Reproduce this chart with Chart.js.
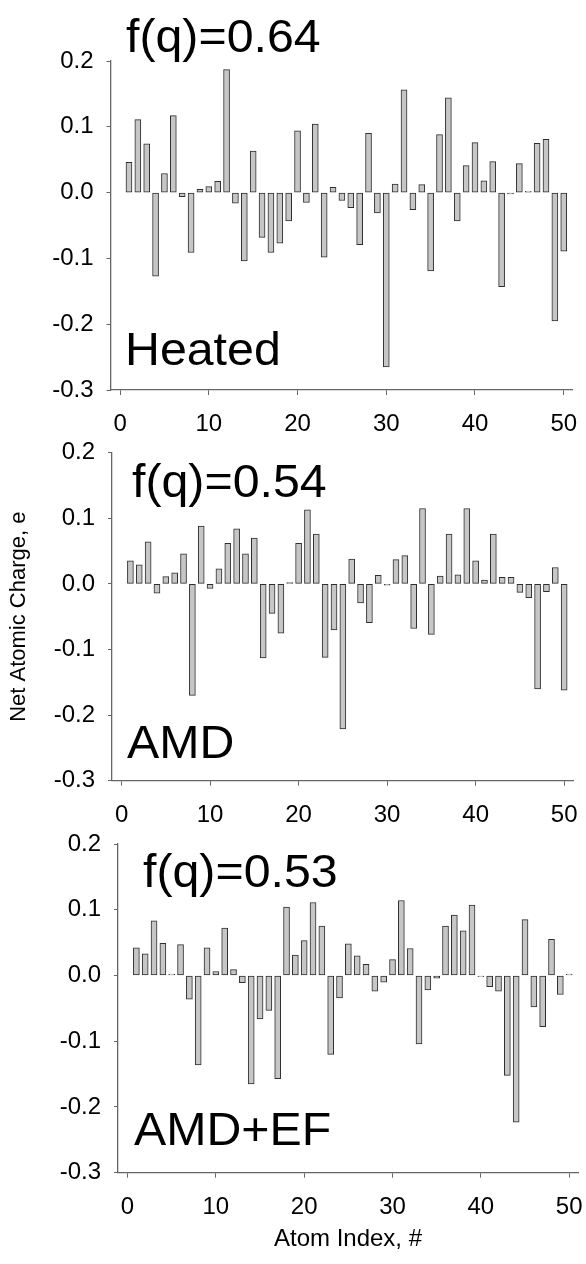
<!DOCTYPE html>
<html><head><meta charset="utf-8">
<script src="https://cdn.jsdelivr.net/npm/chart.js@4.4.0/dist/chart.umd.min.js"></script>
<style>
html,body{margin:0;padding:0;background:#fff;width:586px;height:1264px;overflow:hidden;}
.panel{position:absolute;left:0;width:586px;}
.lbl{position:absolute;font-family:"Liberation Sans",Arial,sans-serif;font-size:46px;color:#000;white-space:nowrap;line-height:1;transform-origin:left top;transform:scaleX(1.05);}
</style></head><body>
<div class="panel" style="top:0;height:440px"><canvas id="c1"></canvas></div>
<div class="panel" style="top:440px;height:390px"><canvas id="c2"></canvas></div>
<div class="panel" style="top:830px;height:434px"><canvas id="c3"></canvas></div>
<div class="lbl" style="left:126px;top:13px">f(q)=0.64</div>
<div class="lbl" style="left:125px;top:326px">Heated</div>
<div class="lbl" style="left:132px;top:458px">f(q)=0.54</div>
<div class="lbl" style="left:127px;top:719px">AMD</div>
<div class="lbl" style="left:143px;top:848px">f(q)=0.53</div>
<div class="lbl" style="left:134px;top:1106px">AMD+EF</div>
<script>
const atomIndex = [1,2,3,4,5,6,7,8,9,10,11,12,13,14,15,16,17,18,19,20,21,22,23,24,25,26,27,28,29,30,31,32,33,34,35,36,37,38,39,40,41,42,43,44,45,46,47,48,49,50];
const heated = [0.046,0.111,0.074,-0.127,0.029,0.117,-0.006,-0.091,0.005,0.009,
  0.017,0.187,-0.016,-0.104,0.063,-0.068,-0.091,-0.077,-0.043,0.094,
  -0.015,0.104,-0.098,0.008,-0.012,-0.023,-0.079,0.090,-0.031,-0.265,
  0.013,0.156,-0.026,0.012,-0.119,0.088,0.144,-0.043,0.041,0.076,
  0.018,0.047,-0.143,-0.002,0.044,0.002,0.075,0.081,-0.195,-0.089];
const amd = [0.035,0.029,0.064,-0.014,0.011,0.017,0.046,-0.170,0.088,-0.007,
  0.023,0.062,0.084,0.046,0.070,-0.113,-0.045,-0.075,0.002,0.062,
  0.113,0.076,-0.112,-0.070,-0.221,0.038,-0.029,-0.059,0.013,-0.002,
  0.037,0.043,-0.068,0.115,-0.077,0.012,0.076,0.014,0.115,0.035,
  0.006,0.076,0.010,0.010,-0.013,-0.021,-0.160,-0.012,0.025,-0.162];
const amdEf = [0.042,0.033,0.083,0.049,0.002,0.047,-0.036,-0.136,0.042,0.006,
  0.072,0.009,-0.011,-0.165,-0.066,-0.053,-0.157,0.104,0.031,0.053,
  0.111,0.075,-0.120,-0.034,0.048,0.030,0.017,-0.024,-0.010,0.024,
  0.114,0.041,-0.104,-0.022,-0.004,0.075,0.092,0.068,0.107,-0.002,
  -0.017,-0.024,-0.152,-0.223,0.085,-0.048,-0.078,0.055,-0.029,0.002];
const xTicks = [0,10,20,30,40,50];
const xTickLabels = ['0','10','20','30','40','50'];
const yTicks = [-0.3,-0.2,-0.1,0.0,0.1,0.2];
const yTickLabels = ['-0.3','-0.2','-0.1','0.0','0.1','0.2'];
const xAxisTitle = 'Atom Index, #';
const yAxisTitle = 'Net Atomic Charge, e';

const FAM = '"Liberation Sans", Arial, sans-serif';
const AXIS = '#666';

function makeChart(id, values, o) {
  return new Chart(document.getElementById(id), {
    type: 'bar',
    data: { datasets: [{
      data: atomIndex.map((x, i) => ({ x: x, y: values[i] })),
      backgroundColor: '#c6c6c6', borderColor: '#2e2e2e', borderWidth: 1,
      borderSkipped: false, barThickness: 6
    }]},
    options: {
      responsive: true, maintainAspectRatio: false, animation: false,
      layout: { padding: { top: o.top, right: o.right, bottom: 0, left: 0 } },
      plugins: { legend: { display: false }, tooltip: { enabled: false } },
      scales: {
        x: {
          type: 'linear', min: -1.08, max: 51, offset: false,
          grid: { offset: false, drawOnChartArea: false, drawTicks: true, tickLength: 5, color: AXIS },
          border: { color: AXIS, width: 1.3 },
          ticks: { font: { family: FAM, size: 24 }, color: '#000', padding: 15, maxRotation: 0, autoSkip: false,
            callback: (v, i) => xTickLabels[i] },
          afterBuildTicks: s => { s.ticks = xTicks.map(v => ({ value: v })); },
          afterFit: s => { s.height = o.xh; s.paddingLeft = 0; s.paddingRight = 0; },
          title: { display: !!o.xTitle, text: xAxisTitle, font: { family: FAM, size: 24 }, color: '#000', padding: { top: 4, bottom: 10 } }
        },
        y: {
          min: -0.3, max: 0.2,
          grid: { drawOnChartArea: false, drawTicks: true, tickLength: 4, color: AXIS },
          border: { color: AXIS, width: 1.3 },
          ticks: { font: { family: FAM, size: 24, lineHeight: 1 }, color: '#000', padding: 13,
            callback: (v, i) => yTickLabels[i] },
          afterBuildTicks: s => { s.ticks = yTicks.map(v => ({ value: v })); },
          afterFit: s => { s.width = o.yw; s.paddingTop = 0; s.paddingBottom = 0; },
          title: { display: !!o.yTitle, text: yAxisTitle, font: { family: FAM, size: 22 }, color: '#000', padding: { top: 6, bottom: 0 } }
        }
      }
    }
  });
}
makeChart('c1', heated, { top: 61, right: 13.4, xh: 50, yw: 110.5 });
makeChart('c2', amd, { top: 12.7, right: 13, xh: 49.3, yw: 112, yTitle: true });
makeChart('c3', amdEf, { top: 14, right: 8, xh: 91.3, yw: 118, xTitle: true });
</script>
</body></html>
